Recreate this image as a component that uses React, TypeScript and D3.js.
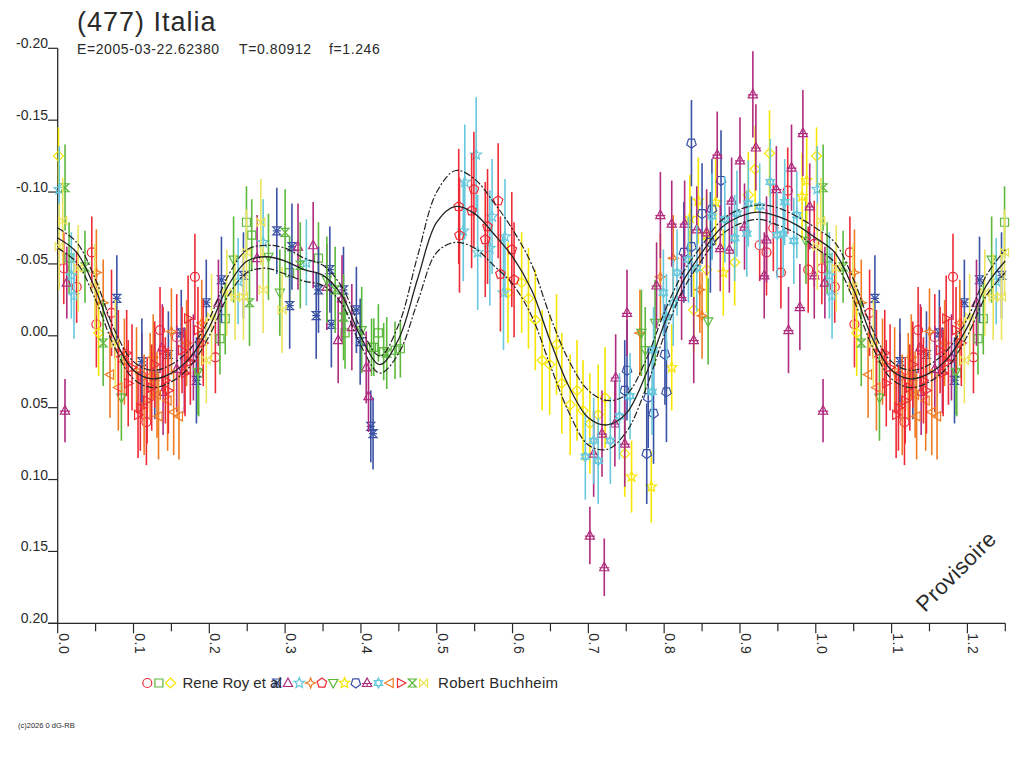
import React from "react";
import * as d3 from "d3";

// phase / reduced magnitude / error
type Obs = [number, number, number];

const fitPhase = d3.range(0, 41).map((i) => i * 0.025);
const fitMag = [
    -0.068, -0.058, -0.032, 0.002, 0.024, 0.03, 0.026, 0.015, -0.006, -0.035,
    -0.052, -0.055, -0.052, -0.046, -0.042, -0.028, 0.001, 0.02, 0.002, -0.04,
    -0.079, -0.09, -0.085, -0.071, -0.055, -0.032, 0.004, 0.036, 0.057, 0.062,
    0.054, 0.028, -0.008, -0.038, -0.058, -0.075, -0.083, -0.086, -0.083, -0.077,
    -0.068,
];
const fitSpread = [
    0.007, 0.007, 0.007, 0.006, 0.006, 0.006, 0.006, 0.006, 0.006, 0.007,
    0.008, 0.008, 0.009, 0.008, 0.007, 0.006, 0.006, 0.006, 0.01, 0.016,
    0.021, 0.025, 0.024, 0.022, 0.019, 0.018, 0.017, 0.018, 0.019, 0.017,
    0.013, 0.01, 0.008, 0.006, 0.005, 0.005, 0.005, 0.005, 0.006, 0.006,
    0.007,
];

const royCircle: Obs[] = [
    [0.008, -0.047, 0.025], [0.025, -0.034, 0.025], [0.045, -0.058, 0.025], [0.051, -0.008, 0.03],
    [0.071, -0.016, 0.03], [0.117, 0.06, 0.03], [0.111, 0.028, 0.03], [0.135, -0.004, 0.03],
    [0.157, 0.001, 0.03], [0.181, -0.041, 0.03], [0.208, 0.015, 0.025], [0.926, -0.063, 0.025],
    [0.935, -0.058, 0.03], [0.944, -0.075, 0.03], [0.954, -0.044, 0.025], [0.963, -0.101, 0.03],
    [0.998, -0.064, 0.03], [0.99, -0.046, 0.03],
];
const roySquare: Obs[] = [
    [0.015, -0.054, 0.025], [0.214, 0.002, 0.025], [0.221, -0.012, 0.025], [0.249, -0.079, 0.025],
    [0.256, -0.07, 0.025], [0.306, -0.044, 0.025], [0.344, -0.054, 0.025], [0.379, -0.002, 0.025],
    [0.414, 0.008, 0.02], [0.423, -0.002, 0.02], [0.417, 0.008, 0.02], [0.43, 0.011, 0.02],
    [0.445, 0.01, 0.02], [0.452, 0.009, 0.02], [0.186, 0.026, 0.03],
];
const royDiamond: Obs[] = [
    [0.001, -0.125, 0.02], [0.054, -0.002, 0.03], [0.594, -0.03, 0.035], [0.612, -0.037, 0.035],
    [0.621, -0.026, 0.035], [0.63, -0.011, 0.035], [0.639, 0.017, 0.035], [0.649, 0.02, 0.035],
    [0.658, 0.006, 0.035], [0.665, 0.033, 0.035], [0.676, 0.048, 0.035], [0.685, 0.038, 0.035],
    [0.693, 0.052, 0.035], [0.702, 0.061, 0.035], [0.713, 0.055, 0.035], [0.722, 0.043, 0.035],
    [0.748, 0.082, 0.03], [0.839, -0.018, 0.03], [0.856, -0.046, 0.03], [0.893, -0.051, 0.03],
    [0.911, -0.098, 0.03], [0.92, -0.116, 0.03], [0.939, -0.127, 0.03],
];
const rbHourBar: Obs[] = [
    [0.078, -0.026, 0.03], [0.111, 0.018, 0.03], [0.146, 0.013, 0.03], [0.183, 0.031, 0.03],
    [0.196, -0.023, 0.03], [0.216, -0.039, 0.03], [0.245, -0.042, 0.03], [0.289, -0.073, 0.03],
    [0.306, -0.021, 0.03], [0.309, -0.062, 0.03], [0.341, -0.014, 0.03], [0.344, -0.032, 0.03],
    [0.359, -0.046, 0.03], [0.361, -0.008, 0.03], [0.377, -0.032, 0.03], [0.394, -0.018, 0.03],
    [0.399, 0.004, 0.03], [0.413, 0.063, 0.025], [0.416, 0.068, 0.025], [0.163, -0.002, 0.03],
    [0.128, 0.028, 0.03],
];
const rbTriangle: Obs[] = [
    [0.012, -0.037, 0.025], [0.139, 0.039, 0.03], [0.157, 0.023, 0.03], [0.179, 0.015, 0.03],
    [0.212, -0.023, 0.03], [0.263, -0.054, 0.03], [0.317, -0.062, 0.03], [0.337, -0.063, 0.03],
    [0.355, -0.034, 0.03], [0.37, 0.003, 0.03], [0.375, -0.026, 0.03], [0.388, -0.006, 0.03],
    [0.407, 0.022, 0.025], [0.41, 0.042, 0.025], [0.138, 0.008, 0.03], [0.167, 0.024, 0.03],
];
const rbStar: Obs[] = [
    [0.002, -0.102, 0.03], [0.018, -0.042, 0.03], [0.0215, -0.028, 0.03], [0.238, -0.038, 0.03],
    [0.271, -0.065, 0.03], [0.328, -0.051, 0.03], [0.535, -0.073, 0.035], [0.537, -0.107, 0.04],
    [0.552, -0.126, 0.04], [0.554, -0.058, 0.04], [0.57, -0.061, 0.04], [0.573, -0.083, 0.04],
    [0.588, -0.03, 0.04], [0.59, -0.069, 0.04],
];
const rbStar4: Obs[] = [
    [0.051, -0.044, 0.03], [0.06, -0.023, 0.03], [0.104, 0.024, 0.03], [0.122, 0.028, 0.03],
    [0.15, -0.003, 0.03], [0.17, 0.005, 0.03], [0.19, -0.009, 0.03], [0.768, -0.002, 0.03],
    [0.795, -0.041, 0.03], [0.812, -0.054, 0.03], [0.847, -0.032, 0.03], [0.85, -0.014, 0.03],
    [0.088, 0.018, 0.03], [0.126, 0.015, 0.03],
];
const rbPentagon: Obs[] = [
    [0.529, -0.09, 0.04], [0.53, -0.07, 0.04], [0.546, -0.087, 0.04], [0.549, -0.102, 0.04],
    [0.564, -0.067, 0.04], [0.567, -0.076, 0.04], [0.581, -0.094, 0.04], [0.584, -0.043, 0.04],
    [0.599, -0.06, 0.04], [0.602, -0.039, 0.04],
];
const rbTriDown: Obs[] = [
    [0.77, -0.002, 0.03], [0.775, 0.01, 0.03], [0.788, -0.009, 0.03], [0.858, -0.01, 0.03],
    [0.987, -0.066, 0.03], [0.084, 0.043, 0.03], [0.185, 0.025, 0.03], [0.232, -0.053, 0.03],
    [0.278, -0.055, 0.03], [0.293, -0.03, 0.03], [0.355, -0.039, 0.03], [0.401, -0.004, 0.03],
];
const rbStarYellow: Obs[] = [
    [0.81, 0.022, 0.03], [0.834, -0.082, 0.03], [0.845, -0.094, 0.03], [0.856, -0.07, 0.03],
    [0.868, -0.093, 0.03], [0.878, -0.044, 0.03], [0.982, -0.097, 0.03], [0.988, -0.108, 0.03],
    [0.757, 0.098, 0.025], [0.783, 0.105, 0.025],
];
const rbShield: Obs[] = [
    [0.751, 0.024, 0.035], [0.748, 0.038, 0.035], [0.777, 0.082, 0.035], [0.779, 0.043, 0.035],
    [0.786, 0.054, 0.035], [0.801, 0.013, 0.035], [0.803, 0.039, 0.035], [0.826, -0.058, 0.035],
    [0.836, -0.062, 0.035], [0.836, -0.134, 0.03], [0.85, -0.085, 0.035], [0.861, -0.065, 0.035],
    [0.863, -0.088, 0.035], [0.875, -0.108, 0.035],
];
const rbTrefoil: Obs[] = [
    [0.0096, 0.052, 0.022], [0.702, 0.139, 0.02], [0.721, 0.161, 0.02], [0.707, 0.082, 0.03],
    [0.718, 0.068, 0.03], [0.735, 0.061, 0.03], [0.736, 0.029, 0.03], [0.748, 0.075, 0.03],
    [0.751, -0.016, 0.03], [0.79, -0.035, 0.03], [0.795, -0.084, 0.03], [0.81, -0.078, 0.03],
    [0.823, -0.027, 0.03], [0.827, -0.078, 0.03], [0.839, 0.003, 0.03], [0.843, -0.074, 0.03],
    [0.856, -0.072, 0.03], [0.87, -0.126, 0.03], [0.874, -0.061, 0.03], [0.886, -0.06, 0.03],
    [0.889, -0.094, 0.03], [0.9, -0.122, 0.03], [0.906, -0.076, 0.03], [0.917, -0.168, 0.03],
    [0.921, -0.131, 0.03], [0.932, -0.042, 0.03], [0.935, -0.067, 0.03], [0.948, -0.102, 0.03],
    [0.964, -0.004, 0.03], [0.968, -0.117, 0.03], [0.979, -0.02, 0.03], [0.983, -0.141, 0.03],
    [0.992, -0.09, 0.03], [0.998, -0.042, 0.03],
];
const rbHexa: Obs[] = [
    [0.696, 0.084, 0.03], [0.707, 0.073, 0.03], [0.713, 0.087, 0.03], [0.729, 0.073, 0.03],
    [0.741, 0.056, 0.03], [0.755, 0.042, 0.03], [0.784, 0.039, 0.03], [0.786, 0.01, 0.03],
    [0.799, -0.03, 0.03], [0.803, -0.013, 0.03], [0.812, -0.023, 0.03], [0.817, -0.044, 0.03],
    [0.832, -0.053, 0.03], [0.843, -0.047, 0.03], [0.863, -0.083, 0.03], [0.88, -0.081, 0.03],
    [0.893, -0.068, 0.03], [0.896, -0.085, 0.03], [0.909, -0.071, 0.03], [0.911, -0.092, 0.03],
    [0.926, -0.09, 0.03], [0.94, -0.107, 0.03], [0.949, -0.07, 0.03], [0.957, -0.071, 0.03],
    [0.959, -0.093, 0.03], [0.971, -0.066, 0.03], [0.975, -0.084, 0.03],
];
const rbTriLeft: Obs[] = [
    [0.069, 0.027, 0.03], [0.08, 0.036, 0.03], [0.131, 0.041, 0.03], [0.133, 0.056, 0.03],
    [0.16, 0.056, 0.03], [0.153, 0.053, 0.03], [0.114, 0.048, 0.035], [0.145, 0.045, 0.035],
];
const rbTriRight: Obs[] = [
    [0.08, 0.012, 0.03], [0.091, 0.012, 0.03], [0.093, 0.033, 0.03], [0.106, 0.055, 0.03],
    [0.109, 0.05, 0.03], [0.124, 0.036, 0.03], [0.139, 0.01, 0.03], [0.142, 0.031, 0.03],
    [0.164, 0.01, 0.03], [0.175, 0.018, 0.03], [0.185, -0.004, 0.03], [0.192, 0.005, 0.03],
    [0.098, 0.022, 0.03], [0.118, 0.045, 0.03], [0.128, 0.02, 0.03], [0.146, 0.038, 0.03],
    [0.168, 0.026, 0.03], [0.172, -0.012, 0.03],
];
const rbHourglass: Obs[] = [
    [0.0097, -0.103, 0.03], [0.036, -0.048, 0.025], [0.3, -0.072, 0.03], [0.06, 0.005, 0.03],
    [0.253, -0.023, 0.03], [0.32, -0.049, 0.03], [0.366, -0.032, 0.03], [0.377, -0.013, 0.03],
    [0.434, 0.012, 0.025],
];
const rbBowtie: Obs[] = [
    [0.0066, -0.08, 0.03], [0.002, -0.062, 0.03], [0.027, -0.047, 0.03], [0.049, -0.034, 0.03],
    [0.076, 0.005, 0.03], [0.196, 0.017, 0.03], [0.203, -0.013, 0.03], [0.223, -0.03, 0.03],
    [0.234, -0.027, 0.03], [0.245, -0.027, 0.03], [0.249, -0.058, 0.03], [0.268, -0.079, 0.03],
    [0.271, -0.032, 0.03], [0.296, -0.018, 0.03],
];

const yTicks = [-0.2, -0.15, -0.1, -0.05, 0, 0.05, 0.1, 0.15, 0.2];
const xMajor = [0, 0.1, 0.2, 0.3, 0.4, 0.5, 0.6, 0.7, 0.8, 0.9, 1.0, 1.1, 1.2];
const xMinor = [0.05, 0.15, 0.25, 0.35, 0.45, 0.55, 0.65, 0.75, 0.85, 0.95, 1.05, 1.15, 1.25];

const observers = ["Rene Roy et al", "Robert Buchheim"];

const sessions = [
    { obs: 0, color: "#ee2a35", shape: "circle", data: royCircle },
    { obs: 0, color: "#5cb83c", shape: "square", data: roySquare },
    { obs: 0, color: "#f7e600", shape: "diamond", data: royDiamond },
    { obs: 1, color: "#3a52a6", shape: "hourBar", data: rbHourBar },
    { obs: 1, color: "#b02a7e", shape: "triUp", data: rbTriangle },
    { obs: 1, color: "#66c8dc", shape: "star5", data: rbStar },
    { obs: 1, color: "#f07b22", shape: "star4", data: rbStar4 },
    { obs: 1, color: "#ee2a35", shape: "pentagon", data: rbPentagon },
    { obs: 1, color: "#5cb83c", shape: "triDown", data: rbTriDown },
    { obs: 1, color: "#f7e600", shape: "star5", data: rbStarYellow },
    { obs: 1, color: "#3a52a6", shape: "shield", data: rbShield },
    { obs: 1, color: "#b02a7e", shape: "trefoil", data: rbTrefoil },
    { obs: 1, color: "#66c8dc", shape: "hexa", data: rbHexa },
    { obs: 1, color: "#f07b22", shape: "triLeft", data: rbTriLeft },
    { obs: 1, color: "#ee2a35", shape: "triRight", data: rbTriRight },
    { obs: 1, color: "#5cb83c", shape: "hourglass", data: rbHourglass },
    { obs: 1, color: "#ece45a", shape: "bowtie", data: rbBowtie },
];

function polygon(n: number, r: number, rot: number, inner?: number) {
    const pts: string[] = [];
    const steps = inner ? n * 2 : n;
    for (let i = 0; i < steps; i++) {
        const a = rot + (i * Math.PI * 2) / steps;
        const rr = inner && i % 2 ? inner : r;
        pts.push(`${(rr * Math.cos(a)).toFixed(2)},${(rr * Math.sin(a)).toFixed(2)}`);
    }
    return "M" + pts.join("L") + "Z";
}

function shapePath(shape: string): string {
    switch (shape) {
        case "circle":
            return "M-4.5,0A4.5,4.5 0 1,0 4.5,0A4.5,4.5 0 1,0 -4.5,0Z";
        case "square":
            return "M-4,-4H4V4H-4Z";
        case "diamond":
            return "M0,-5L5,0L0,5L-5,0Z";
        case "triUp":
            return "M0,-5L4.6,3.5H-4.6Z";
        case "triDown":
            return "M0,5L4.6,-3.5H-4.6Z";
        case "triLeft":
            return "M-5,0L3.5,-4.6V4.6Z";
        case "triRight":
            return "M5,0L-3.5,-4.6V4.6Z";
        case "star5":
            return polygon(5, 5.5, -Math.PI / 2, 2.4);
        case "star4":
            return "M0,-5L1.4,-1.4L5,0L1.4,1.4L0,5L-1.4,1.4L-5,0L-1.4,-1.4Z";
        case "pentagon":
            return polygon(5, 5, -Math.PI / 2);
        case "shield":
            return polygon(5, 5, Math.PI / 2);
        case "hourglass":
            return "M-4,-4H4L-4,4H4Z";
        case "hourBar":
            return "M-4,-4H4L-4,4H4Z M-4,0H4";
        case "bowtie":
            return "M-4,-4V4L4,-4V4Z";
        case "trefoil":
            return "M0,-5L4.6,3.5H-4.6Z M-5,0.5H5 M0,0.5V3.5";
        case "hexa":
            return "M0,-5L4.3,2.5H-4.3Z M0,5L4.3,-2.5H-4.3Z";
        default:
            return "";
    }
}

const font = "'Liberation Sans', Arial, sans-serif";
const ink = "#2a2a2a";

const App: React.FC = () => {
    const x = d3.scaleLinear().domain([0, 1.25]).range([57.7, 1005.3]);
    const y = d3.scaleLinear().domain([-0.2, 0.2]).range([48.3, 623.3]);

    // phases below 0.25 are shown again after 1.0
    const wrap = (p: number) => (p < 0.25 ? [p, p + 1] : [p]);

    const curvePts = (off: number) => {
        const base = fitPhase.map((p, i) => [p, fitMag[i] + off * fitSpread[i]] as [number, number]);
        const extra = fitPhase
            .map((p, i) => [p + 1, fitMag[i] + off * fitSpread[i]] as [number, number])
            .filter((d) => d[0] > 1 && d[0] <= 1.25);
        return base.concat(extra);
    };
    const line = d3
        .line<[number, number]>()
        .x((d) => x(d[0]))
        .y((d) => y(d[1]))
        .curve(d3.curveCatmullRom);

    const legendItems: { s: (typeof sessions)[number]; lx: number }[] = [];
    let lx = 147.3;
    sessions.forEach((s, i) => {
        if (i === 3) lx = 276.7;
        legendItems.push({ s, lx });
        lx += i < 3 ? 11.6 : 11.3;
    });

    return (
        <svg
            width={1024}
            height={768}
            style={{ position: "absolute", left: 0, top: 0, background: "#fff" }}
            fontFamily={font}
        >
            <text x={77} y={31} fontSize={27} letterSpacing={1} fill={ink}>
                (477) Italia
            </text>
            <text x={77} y={54} fontSize={14} letterSpacing={0.6} fill={ink}>E=2005-03-22.62380</text>
            <text x={239} y={54} fontSize={14} letterSpacing={0.6} fill={ink}>T=0.80912</text>
            <text x={329} y={54} fontSize={14} letterSpacing={0.6} fill={ink}>f=1.246</text>

            {/* axes */}
            <line x1={x(0)} x2={x(0)} y1={y(-0.2)} y2={y(0.2)} stroke={ink} strokeWidth={1.3} />
            <line x1={48} x2={x(1.25)} y1={y(0.2)} y2={y(0.2)} stroke={ink} strokeWidth={1.3} />
            {yTicks.map((t) => (
                <g key={t}>
                    <line x1={48} x2={x(0)} y1={y(t)} y2={y(t)} stroke={ink} strokeWidth={1.2} />
                    <text x={48} y={y(t)} textAnchor="end" fontSize={14} fill={ink}>
                        {t.toFixed(2)}
                    </text>
                </g>
            ))}
            {xMajor.map((t) => (
                <g key={t}>
                    <line x1={x(t)} x2={x(t)} y1={y(0.2)} y2={y(0.2) + 10} stroke={ink} strokeWidth={1.2} />
                    <text
                        transform={`translate(${x(t) + 1},${y(0.2) + 10}) rotate(90)`}
                        fontSize={14}
                        letterSpacing={0.5}
                        fill={ink}
                    >
                        {t.toFixed(1)}
                    </text>
                </g>
            ))}
            {xMinor.map((t) => (
                <line key={t} x1={x(t)} x2={x(t)} y1={y(0.2)} y2={y(0.2) + 8} stroke={ink} strokeWidth={1.2} />
            ))}

            {/* observations */}
            {sessions.map((s, si) => (
                <g key={si} stroke={s.color} fill="none">
                    {s.data.flatMap((d, di) =>
                        wrap(d[0]).map((p, k) => (
                            <g key={`${di}-${k}`}>
                                <line
                                    x1={x(p)}
                                    x2={x(p)}
                                    y1={y(d[1] - d[2])}
                                    y2={y(d[1] + d[2])}
                                    strokeWidth={1.6}
                                />
                                <path
                                    d={shapePath(s.shape)}
                                    transform={`translate(${x(p)},${y(d[1])})`}
                                    strokeWidth={1.2}
                                />
                            </g>
                        ))
                    )}
                </g>
            ))}

            {/* Fourier fit and its envelope */}
            <path d={line(curvePts(0)) || ""} fill="none" stroke="#222" strokeWidth={1.3} />
            <path
                d={line(curvePts(-1)) || ""}
                fill="none"
                stroke="#222"
                strokeWidth={1.2}
                strokeDasharray="7 2 2 2"
            />
            <path
                d={line(curvePts(1)) || ""}
                fill="none"
                stroke="#222"
                strokeWidth={1.2}
                strokeDasharray="7 2 2 2"
            />

            <text transform="translate(925,613) rotate(-45)" fontSize={22} letterSpacing={0.5} fill={ink}>
                Provisoire
            </text>

            {/* legend */}
            {legendItems.map(({ s, lx }, i) => (
                <path
                    key={i}
                    d={shapePath(s.shape)}
                    transform={`translate(${lx},683)`}
                    fill="none"
                    stroke={s.color}
                    strokeWidth={1.2}
                />
            ))}
            <text x={182.5} y={688} fontSize={15} fill={ink}>
                {observers[0]}
            </text>
            <text x={438} y={688} fontSize={15} letterSpacing={0.3} fill={ink}>
                {observers[1]}
            </text>

            <text x={18} y={728} fontSize={7.5} fill={ink}>
                (c)2026 0 dG-RB
            </text>
        </svg>
    );
};

export default App;
